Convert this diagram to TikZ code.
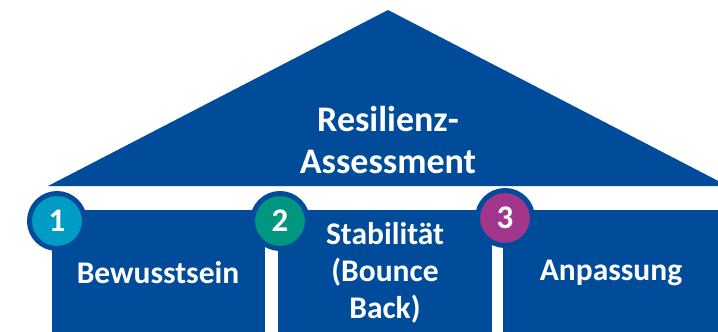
\documentclass[tikz,border=0pt]{standalone}
\usepackage{fontspec}
\setmainfont{Carlito}
\usetikzlibrary{positioning}
\definecolor{hausblau}{RGB}{0,76,155}
\definecolor{nrcyan}{RGB}{0,156,196}
\definecolor{nrgruen}{RGB}{0,150,128}
\definecolor{nrlila}{RGB}{162,54,140}
\tikzstyle{saeule} = [rectangle, anchor=north west, minimum height=140pt, fill=hausblau, inner sep=0pt]
\tikzstyle{nummer} = [circle, minimum size=55pt, inner sep=0pt, draw=hausblau, line width=5pt, text=white, font=\fontsize{33}{33}\selectfont\bfseries]
\tikzstyle{saeulentext} = [text=white, align=center, anchor=base, font=\fontsize{31.5}{37}\selectfont\bfseries]
\tikzstyle{dachtext} = [text=white, align=center, anchor=base, font=\fontsize{36}{42}\selectfont\bfseries]

\begin{document}
\begin{tikzpicture}[x=1pt, y=-1pt]
    \useasboundingbox (0,0) rectangle (718,332);
    \clip (0,0) rectangle (718,332);
    % Dach
    \fill [hausblau] (48,186) -- (388,10) -- (728,186) -- cycle;
    \node (dach) [dachtext] at (388,173) {Resilienz-\\Assessment};

    % Saeulen
    \node (s1) [saeule, minimum width=213pt] at (52,210) {};
    \node (s2) [saeule, minimum width=214pt] at (278,210) {};
    \node (s3) [saeule, minimum width=230pt] at (503,210) {};

    \node (t1) [saeulentext] at (158,283) {Bewusstsein};
    \node (t2) [saeulentext] at (385,318) {Stabilität\\(Bounce\\Back)};
    \node (t3) [saeulentext] at (611,280) {Anpassung};

    % Nummern
    \node (n1) [nummer, fill=nrcyan]  at (57,221) {1};
    \node (n2) [nummer, fill=nrgruen] at (280,221) {2};
    \node (n3) [nummer, fill=nrlila]  at (505,218) {3};
\end{tikzpicture}
\end{document}
